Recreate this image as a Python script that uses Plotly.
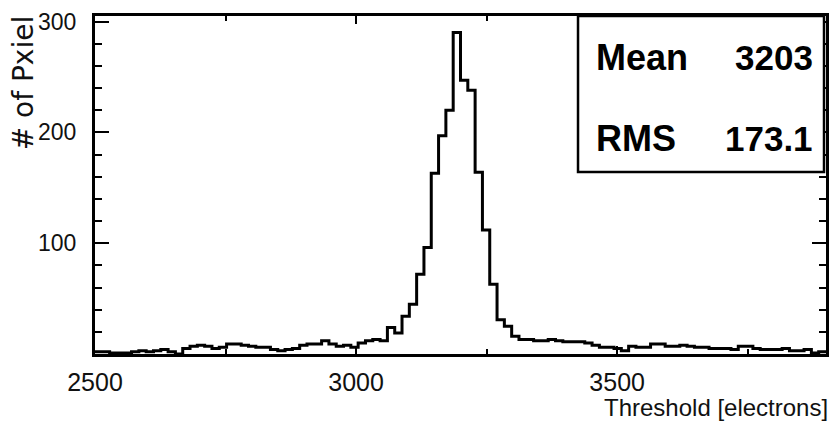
import plotly.graph_objects as go

# ---- data ----
x_lo = 2500
x_hi = 3900
n_bins = 100
counts = [
    2, 2, 1, 1, 1, 2, 3, 2, 3, 4,
    2, 0, 5, 7, 8, 7, 5, 6, 9, 9,
    8, 7, 6, 6, 4, 3, 4, 5, 8, 9,
    9, 12, 9, 7, 8, 6, 10, 12, 13, 12,
    24, 19, 34, 45, 72, 96, 163, 197, 220, 290,
    247, 238, 164, 112, 63, 31, 25, 16, 13, 13,
    12, 12, 13, 12, 11, 11, 11, 10, 8, 6,
    6, 5, 3, 7, 6, 6, 9, 9, 7, 7,
    8, 7, 6, 6, 5, 5, 5, 4, 7, 7,
    5, 4, 4, 4, 5, 3, 3, 4, 1, 2,
]
x_ticks = [2500, 3000, 3500]
y_ticks = [100, 200, 300]
stat_names = ["Mean", "RMS"]
stat_values = ["3203", "173.1"]
x_title = "Threshold [electrons]"
y_title = "# of Pxiel"

bw = (x_hi - x_lo) / n_bins
edges = [x_lo + bw * k for k in range(n_bins + 1)]
xs = edges[:-1] + [edges[-1]]
ys = counts + [counts[-1]]

FONT = "Liberation Sans, Arial, sans-serif"

W, H = 829, 425
L, R, T, B = 95, 0, 16, 71
pw, ph = W - L - R, H - T - B


def px(xp):
    return (xp - L) / pw


def py(yp):
    return (H - B - yp) / ph


fig = go.Figure()
fig.add_trace(go.Scatter(x=xs, y=ys, mode="lines", line=dict(color="black", width=3, shape="hv"),
                         showlegend=False, hoverinfo="skip"))

fig.update_layout(
    width=W, height=H, margin=dict(l=L, r=R, t=T, b=B),
    paper_bgcolor="white", plot_bgcolor="white",
    xaxis=dict(range=[x_lo, x_hi], tickvals=x_ticks, ticktext=[str(v) for v in x_ticks],
               showgrid=False, zeroline=False, showline=True, linecolor="black", linewidth=3,
               mirror="ticks", ticks="inside", ticklen=8, tickwidth=2, tickcolor="black",
               minor=dict(dtick=250, tick0=2500, ticks="inside", ticklen=5, tickwidth=2, tickcolor="black"),
               tickfont=dict(family=FONT, size=25, color="#111"), ticklabelstandoff=4),
    yaxis=dict(range=[0, 305], tickvals=y_ticks, ticktext=[str(v) for v in y_ticks],
               showgrid=False, zeroline=False, showline=True, linecolor="black", linewidth=3,
               mirror="ticks", ticks="inside", ticklen=14, tickwidth=2, tickcolor="black",
               minor=dict(dtick=20, tick0=0, ticks="inside", ticklen=7, tickwidth=2, tickcolor="black"),
               tickfont=dict(family=FONT, size=23, color="#111"), ticklabelstandoff=11),
)

# stats box
fig.add_shape(type="rect", xref="paper", yref="paper", x0=px(580), x1=px(827), y0=py(172), y1=1,
              line=dict(color="black", width=2.5), fillcolor="white", layer="above")

row_y = [57.5, 138]
for name, val, yp in zip(stat_names, stat_values, row_y):
    fig.add_annotation(text=name, xref="paper", yref="paper", x=px(596), y=py(yp), xanchor="left",
                       yanchor="middle", showarrow=False,
                       font=dict(family=FONT, size=36, color="black", weight="bold"))
    fig.add_annotation(text=val, xref="paper", yref="paper", x=px(818), y=py(yp), xanchor="right",
                       yanchor="middle", showarrow=False,
                       font=dict(family=FONT, size=35, color="black", weight="bold"))

fig.add_annotation(text=x_title, xref="paper", yref="paper", x=px(833), y=py(407), xanchor="right",
                   yanchor="middle", showarrow=False, font=dict(family=FONT, size=24, color="#111"))
fig.add_annotation(text=y_title, xref="paper", yref="paper", x=px(23), y=py(83), xanchor="center",
                   yanchor="middle", showarrow=False, textangle=-90,
                   font=dict(family="DejaVu Sans", size=28, color="#111"))

fig.write_html("out.html")
